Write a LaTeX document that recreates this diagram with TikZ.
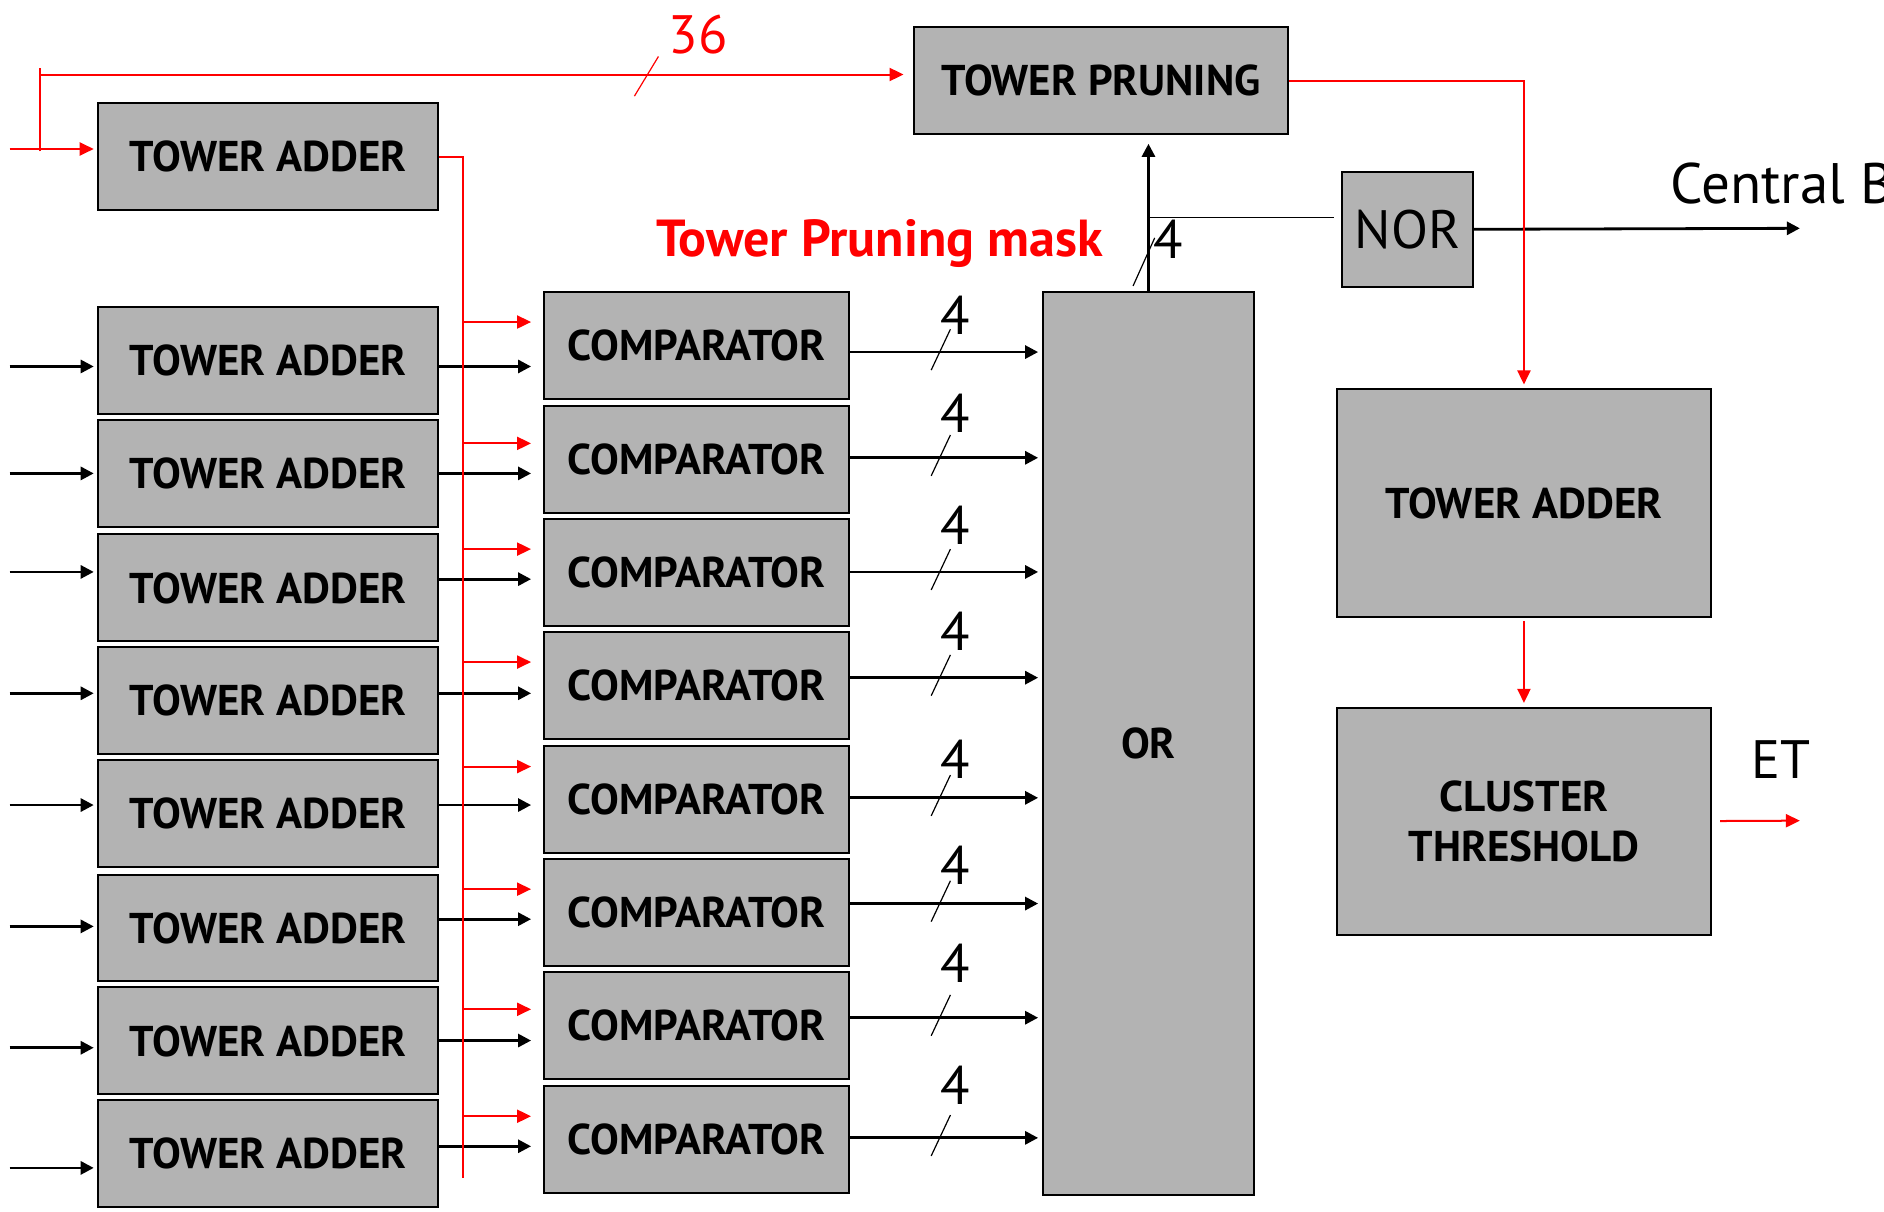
\documentclass[tikz,border=0pt]{standalone}
\usepackage{fontspec}
\setmainfont{PT Sans}
\usetikzlibrary{arrows.meta,calc}
\definecolor{boxgray}{RGB}{179,179,179}
\definecolor{sred}{RGB}{255,0,0}
\begin{document}
\begin{tikzpicture}[x=0.6pt,y=-0.6pt,
 blk/.style={draw=black,line width=1pt,fill=boxgray,inner sep=0pt,anchor=north west,font=\fontsize{21.5}{25}\selectfont\bfseries,align=center},
 tadd/.style={blk,minimum width=169.8pt,minimum height=53.4pt},
 cmpb/.style={blk,minimum width=152.4pt,minimum height=53.4pt},
 barr/.style={line width=1.4pt,-{Triangle[length=6.5pt,width=6.5pt]}},
 rarr/.style={draw=sred,line width=1pt,-{Triangle[length=7pt,width=6.5pt]}},
 rline/.style={draw=sred,line width=1pt},
 slash/.style={line width=0.6pt},
 num/.style={font=\fontsize{27}{30}\selectfont, inner sep=0pt},
]
\useasboundingbox (0,0) rectangle (1568,1008);

% top tower adder and tower pruning
\node[tadd] (ta0) at (81,85) {TOWER ADDER};
\node[blk,minimum width=186.6pt,minimum height=53.4pt] (tp) at (760,22) {TOWER PRUNING};
\node[blk,minimum width=105.6pt,minimum height=451.2pt] (orb) at (867,242) {OR};
\node[blk,font=\fontsize{27}{30}\selectfont,minimum width=65.4pt,minimum height=57.6pt] (nor) at (1116,142) {NOR};
\node[blk,minimum width=186.6pt,minimum height=114pt] (rta) at (1112,323) {TOWER ADDER};
\node[blk,minimum width=186.6pt,minimum height=113.4pt] (cth) at (1112,588) {CLUSTER\\THRESHOLD};

% rows
\foreach \i/\ty/\cy/\iny/\my/\ry/\oy/\fy in {
 1/255/242/305/305/268/293/262,
 2/349/337/394/394/369/381/344,
 3/444/431/476/482/457/476/437,
 4/538/525/577/577/551/564/525,
 5/632/620/670/670/638/664/632,
 6/727/714/771/765/740/752/720,
 7/821/808/872/866/840/847/802,
 8/915/903/972/954/929/947/903}{
 \node[tadd] (ta\i) at (81,\ty) {TOWER ADDER};
 \node[cmpb] (cmp\i) at (452,\cy) {COMPARATOR};
 \coordinate (in\i) at (8,\iny);
 \coordinate (m\i) at (0,\my);
 \coordinate (bus\i) at (385,\ry);
 \coordinate (o\i) at (0,\oy);
 \draw[barr,shorten >=1.8pt] (in\i) -- (in\i -| ta\i.west);
 \draw[barr,shorten >=6pt] (ta\i.east |- m\i) -- (cmp\i.west |- m\i);
 \draw[rarr,shorten >=6pt] (bus\i) -- (cmp\i.west |- bus\i);
 \draw[barr,shorten >=1.8pt] (cmp\i.east |- o\i) -- (orb.west |- o\i);
 \draw[slash] (775,\oy+15) -- (791,\oy-19);
 \node[num] at (795,\fy) {4};
}

% red bus from top tower adder
\coordinate (busend) at (385,980);
\draw[rline] (ta0.east) -| (busend);

% red input and 36-bit line to tower pruning
\coordinate (rin) at (8,124);
\coordinate (rtop) at (33,57);
\coordinate (rbot) at (33,126);
\coordinate (rh) at (33,62);
\draw[rarr,shorten >=1.8pt] (rin) -- (rin -| ta0.west);
\draw[rline] (rbot) -- (rtop);
\draw[rarr,shorten >=4.8pt] (rh) -- (rh -| tp.west);
\draw[draw=sred,line width=0.6pt] (528,80) -- (548,47);
\node[num,text=sred] at (581,29) {36};

% OR to tower pruning, NOR
\coordinate (nj) at (0,181);
\draw[barr,shorten >=4.2pt] (orb.north) -- (orb.north |- tp.south);
\draw[line width=0.8pt,shorten >=3.6pt] (orb.north |- nj) -- (nor.west |- nj);
\draw[slash] (943,238) -- (961,198);
\node[num] at (972,199) {4};
\coordinate (cb) at (1498,190);
\draw[barr] (nor.east) -- (cb);
\node[font=\fontsize{28.5}{32}\selectfont,inner sep=0pt,anchor=base west] at (1390,169) {Central B};

\node[font=\fontsize{26}{30}\selectfont\bfseries,text=sred,inner sep=0pt] (mask) at (732,203) {Tower Pruning mask};

% right column
\draw[rarr,shorten >=1.8pt] (tp.east) -| (rta.north);
\draw[rarr,shorten >=1.8pt,shorten <=1.2pt] (rta.south) -- (cth.north);
\coordinate (etend) at (1498,683);
\draw[rarr,shorten <=4.2pt] (cth.east) -- (etend);
\node[num] at (1482,632) {ET};
\end{tikzpicture}
\end{document}
